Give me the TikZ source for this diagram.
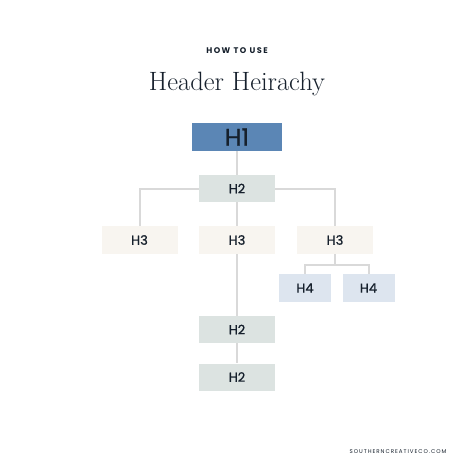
\documentclass[tikz,border=0pt]{standalone}
\usepackage{fontspec}
\newfontfamily\popfont{Poppins}[FakeBold=0.8]
\newfontfamily\popwide{Poppins}[LetterSpace=18]
\definecolor{hblue}{HTML}{5B86B5}
\definecolor{hsage}{HTML}{DCE3E1}
\definecolor{hcream}{HTML}{F8F5F0}
\definecolor{hsky}{HTML}{DDE5EF}
\definecolor{hline}{HTML}{D9D9D9}
\definecolor{htext}{HTML}{16202C}
\tikzset{
    hbox/.style={minimum width=76pt, minimum height=27pt, inner sep=0pt,
        font=\popfont\fontsize{13}{13}\selectfont, text=htext},
    link/.style={hline, line width=2pt}
}
\begin{document}
\begin{tikzpicture}[x=1pt, y=-1pt]
    \useasboundingbox[fill=white] (0,0) rectangle (474,474);

    % Titles
    \node[text=htext] (kicker) at (237,51) {\popwide\bfseries\fontsize{8.2}{8}\selectfont HOW TO USE};
    \node[text=htext] (title) at (237,84) {\fontsize{26.5}{27}\selectfont Header Heirachy};

    % Boxes
    \node[hbox, fill=hblue, minimum width=90pt, minimum height=28pt,
        font=\popfont\fontsize{24}{24}\selectfont] (h1) at (237,137) {H1};
    \node[hbox, fill=hsage] (h2a) at (237,188.5) {H2};
    \node[hbox, fill=hcream, minimum height=28pt] (h3a) at (139.5,240) {H3};
    \node[hbox, fill=hcream, minimum height=28pt] (h3b) at (237,240) {H3};
    \node[hbox, fill=hcream, minimum height=28pt] (h3c) at (335,240) {H3};
    \node[hbox, fill=hsky, minimum width=52pt, minimum height=28pt] (h4a) at (305,288) {H4};
    \node[hbox, fill=hsky, minimum width=52pt, minimum height=28pt] (h4b) at (368.5,288) {H4};
    \node[hbox, fill=hsage] (h2b) at (237,329.5) {H2};
    \node[hbox, fill=hsage] (h2c) at (237,377) {H2};

    % Links
    \draw[link] (h1) -- (h2a);
    \draw[link] (h2a.west) -| (h3a.north);
    \draw[link] (h2a.east) -| (h3c.north);
    \draw[link] (h2a) -- (h3b);
    \draw[link] (h3b) -- (h2b);
    \draw[link] (h2b) -- (h2c);
    \coordinate (fork) at ([yshift=-11pt]h3c.south);
    \draw[link] (h3c) -- (fork);
    \draw[link] (fork) -| (h4a.north);
    \draw[link] (fork) -| (h4b.north);

    % Footer
    \node[text=htext] (site) at (398,452) {\popwide\fontsize{5.5}{5.5}\selectfont SOUTHERNCREATIVECO.COM};
\end{tikzpicture}
\end{document}
